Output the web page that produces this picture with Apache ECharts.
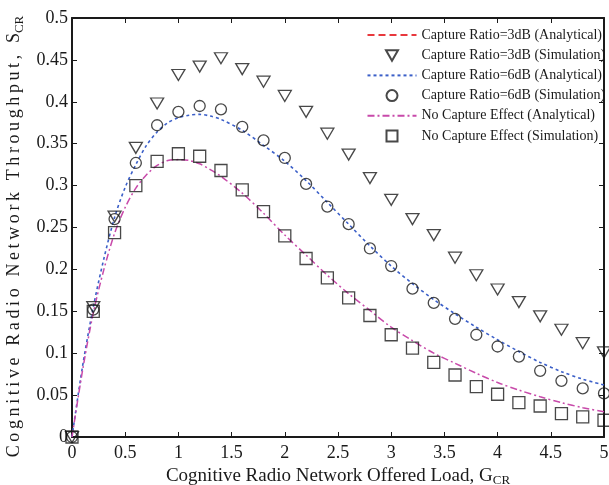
<!DOCTYPE html>
<html>
<head>
<meta charset="utf-8">
<script src="https://cdn.jsdelivr.net/npm/echarts@6/dist/echarts.min.js"></script>
<style>
  html, body { margin: 0; padding: 0; background: #fff; }
  #chart { width: 609px; height: 485px; }
</style>
</head>
<body>
<div id="chart"></div>
<script>
// Offered load G_CR for simulation points
const simX = [0, 0.2, 0.4, 0.6, 0.8, 1.0, 1.2, 1.4, 1.6, 1.8, 2.0, 2.2, 2.4, 2.6, 2.8,
              3.0, 3.2, 3.4, 3.6, 3.8, 4.0, 4.2, 4.4, 4.6, 4.8, 5.0];
// Simulated throughput
const cr3Sim   = [0, 0.155, 0.263, 0.345, 0.398, 0.432, 0.442, 0.452, 0.439, 0.424, 0.407, 0.388, 0.362,
                  0.337, 0.309, 0.283, 0.260, 0.241, 0.214, 0.193, 0.176, 0.161, 0.144, 0.128, 0.112, 0.101];
const cr6Sim   = [0, 0.152, 0.260, 0.327, 0.372, 0.388, 0.395, 0.391, 0.370, 0.354, 0.333, 0.302, 0.275,
                  0.254, 0.225, 0.204, 0.177, 0.160, 0.141, 0.122, 0.108, 0.096, 0.079, 0.067, 0.058, 0.052];
const noCapSim = [0, 0.150, 0.244, 0.300, 0.329, 0.338, 0.335, 0.318, 0.295, 0.269, 0.240, 0.213, 0.190,
                  0.166, 0.145, 0.122, 0.106, 0.089, 0.074, 0.060, 0.051, 0.041, 0.037, 0.028, 0.024, 0.020];

// Offered load for analytical curves
const anaX = [0, 0.1, 0.2, 0.3, 0.4, 0.5, 0.6, 0.7, 0.8, 0.9, 1.0, 1.1, 1.2, 1.3, 1.4,
              1.6, 1.8, 2.0, 2.2, 2.4, 2.6, 2.8, 3.0, 3.2, 3.4, 3.6, 3.8, 4.0, 4.2, 4.4, 4.6, 4.8, 5.0];
// Analytical throughput
const cr3Ana   = [];
const cr6Ana   = [0, 0.085, 0.155, 0.213, 0.262, 0.298, 0.325, 0.348, 0.364, 0.375, 0.381, 0.384, 0.385, 0.383, 0.379,
                  0.366, 0.348, 0.329, 0.306, 0.280, 0.254, 0.228, 0.204, 0.183, 0.164, 0.147, 0.131, 0.116, 0.102,
                  0.089, 0.078, 0.069, 0.062];
const noCapAna = [0, 0.080, 0.148, 0.200, 0.243, 0.274, 0.297, 0.313, 0.324, 0.330, 0.331, 0.330, 0.326, 0.319, 0.311,
                  0.291, 0.267, 0.241, 0.217, 0.193, 0.171, 0.151, 0.131, 0.115, 0.100, 0.088, 0.076, 0.065, 0.056,
                  0.048, 0.041, 0.035, 0.030];

const names = [
  'Capture Ratio=3dB (Analytical)',
  'Capture Ratio=3dB (Simulation)',
  'Capture Ratio=6dB (Analytical)',
  'Capture Ratio=6dB (Simulation)',
  'No Capture Effect (Analytical)',
  'No Capture Effect (Simulation)'
];

const pairs = (xs, ys) => ys.map((y, i) => [xs[i], y]);
const FONT = '"Liberation Serif", "DejaVu Serif", serif';
const INK = '#1a1a1a';
// spread the vertical title out with thin spaces between letters
const spaced = s => s.split('').join('\u2009');

// Legend marker icons, drawn inside a 49x14 box so the markers stay small and centred
const BOX = 'M0,0M49,14';
const ICON_TRI_DOWN = 'path://' + BOX + 'M18.5,2L30.5,2L24.5,12.5Z';
const ICON_CIRCLE   = 'path://' + BOX + 'M30,7A5.5,5.5,0,1,1,19,7A5.5,5.5,0,1,1,30,7Z';
const ICON_SQUARE   = 'path://' + BOX + 'M19,1.5L30,1.5L30,12.5L19,12.5Z';

const chart = echarts.init(document.getElementById('chart'));

const axisCommon = {
  axisLine: { show: true, onZero: false, lineStyle: { color: INK, width: 2 } },
  axisTick: { show: true, inside: true, length: 5, lineStyle: { color: INK, width: 1 } },
  splitLine: { show: false }
};

chart.setOption({
  backgroundColor: '#fff',
  animation: false,
  grid: { left: 72, right: 5, top: 18, bottom: 48, containLabel: false, outerBoundsMode: 'none' },
  xAxis: [
    Object.assign({
      type: 'value', min: 0, max: 5, interval: 0.5, position: 'bottom',
      name: '{t|Cognitive Radio Network Offered Load, G}{s|CR}',
      nameLocation: 'middle', nameGap: 18,
      nameTextStyle: {
        rich: {
          t: { fontFamily: FONT, fontSize: 19, color: INK },
          s: { fontFamily: FONT, fontSize: 13, color: INK, verticalAlign: 'bottom', padding: [9, 0, 0, 0] }
        }
      },
      axisLabel: { fontFamily: FONT, fontSize: 18, color: INK, margin: 7 }
    }, axisCommon),
    Object.assign({
      type: 'value', min: 0, max: 5, interval: 0.5, position: 'top',
      axisLabel: { show: false }
    }, axisCommon)
  ],
  yAxis: [
    Object.assign({
      type: 'value', min: 0, max: 0.5, interval: 0.05, position: 'left',
      name: '{t|' + spaced('Cognitive Radio Network Throughput, S') + '}{s|CR}',
      nameLocation: 'middle', nameGap: 35, nameRotate: 90,
      nameTextStyle: {
        padding: [0, 18, 0, 0],
        rich: {
          t: { fontFamily: FONT, fontSize: 18, color: INK },
          s: { fontFamily: FONT, fontSize: 13, color: INK, verticalAlign: 'bottom', padding: [9, 0, 0, 0] }
        }
      },
      axisLabel: { fontFamily: FONT, fontSize: 18, color: INK, margin: 4 }
    }, axisCommon),
    Object.assign({
      type: 'value', min: 0, max: 0.5, interval: 0.05, position: 'right',
      axisLabel: { show: false }
    }, axisCommon)
  ],
  legend: {
    orient: 'vertical',
    left: 360,
    top: 23,
    itemGap: 3.7,
    itemWidth: 49,
    itemHeight: 14,
    data: [
      { name: names[0], itemStyle: { opacity: 0 } },
      { name: names[1], icon: ICON_TRI_DOWN },
      { name: names[2], itemStyle: { opacity: 0 } },
      { name: names[3], icon: ICON_CIRCLE },
      { name: names[4], itemStyle: { opacity: 0 } },
      { name: names[5], icon: ICON_SQUARE }
    ],
    textStyle: { fontFamily: FONT, fontSize: 14, color: INK, lineHeight: 14 }
  },
  series: [
    {
      name: names[0], type: 'line', data: pairs(anaX, cr3Ana), smooth: 0.3,
      showSymbol: false, symbol: 'none',
      lineStyle: { color: '#e8383d', width: 1.5, type: [7, 4] }, itemStyle: { color: '#e8383d' }, z: 2
    },
    {
      name: names[1], type: 'scatter', data: pairs(simX, cr3Sim),
      symbol: 'triangle', symbolRotate: 180, symbolSize: [13, 11],
      itemStyle: { color: 'none', borderColor: INK, borderWidth: 1.3 }, z: 5
    },
    {
      name: names[2], type: 'line', data: pairs(anaX, cr6Ana), smooth: 0.3,
      showSymbol: false, symbol: 'none',
      lineStyle: { color: '#3b5fc8', width: 1.6, type: [3, 3] }, itemStyle: { color: '#3b5fc8' }, z: 3
    },
    {
      name: names[3], type: 'scatter', data: pairs(simX, cr6Sim),
      symbol: 'circle', symbolSize: 11,
      itemStyle: { color: 'none', borderColor: INK, borderWidth: 1.3 }, z: 5
    },
    {
      name: names[4], type: 'line', data: pairs(anaX, noCapAna), smooth: 0.3,
      showSymbol: false, symbol: 'none',
      lineStyle: { color: '#c84aaa', width: 1.5, type: [7, 3, 2, 3] }, itemStyle: { color: '#c84aaa' }, z: 3
    },
    {
      name: names[5], type: 'scatter', data: pairs(simX, noCapSim),
      symbol: 'rect', symbolSize: 12,
      itemStyle: { color: 'none', borderColor: INK, borderWidth: 1.3 }, z: 5
    }
  ]
});
</script>
</body>
</html>
